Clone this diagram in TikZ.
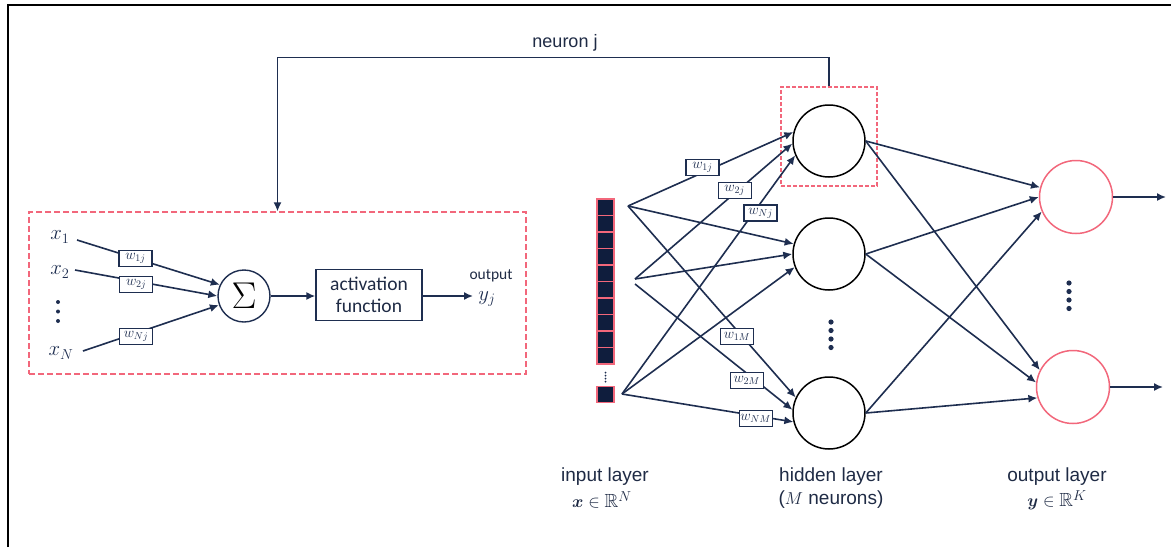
\documentclass[tikz,border=0pt]{standalone}
\usepackage{amsmath,amssymb,bm}
\usepackage{graphicx}
\usepackage[no-math]{fontspec}
\setmainfont{Liberation Sans}
\newfontfamily\calib{Carlito}
\usetikzlibrary{arrows.meta}
\definecolor{navy}{HTML}{1E2E50}
\definecolor{cellnavy}{HTML}{0F1D3D}
\definecolor{pinkred}{HTML}{F2677B}
\definecolor{txt}{HTML}{1F2B45}

\begin{document}
\begin{tikzpicture}[x=1pt,y=-1pt,
  conn/.style={draw=navy, line width=1.6pt},
  arr/.style={conn, -{Latex[length=9pt,width=8pt]}},
  wbox/.style={draw=navy, fill=white, line width=1.2pt, inner sep=0pt,
    minimum width=33pt, minimum height=16pt,
    font=\fontsize{14.4}{14.4}\selectfont, text=navy},
  hid/.style={circle, draw=black, line width=1.5pt, minimum size=72pt, inner sep=0pt},
  outn/.style={circle, draw=pinkred, line width=1.5pt, minimum size=73pt, inner sep=0pt},
  redbox/.style={draw=pinkred, dash pattern=on 6pt off 3pt, line width=1.3pt, inner sep=0pt},
  cell/.style={draw=pinkred, fill=cellnavy, line width=1.3pt, minimum width=17pt,
    minimum height=16.5pt, inner sep=0pt},
  lbl/.style={text=txt, font=\fontsize{19}{21}\selectfont, inner sep=0pt, align=center},
  mlbl/.style={text=navy, font=\fontsize{20.74}{20.74}\selectfont, inner sep=0pt},
]
\useasboundingbox (0,0) rectangle (1171,547);
\fill[white] (0,0) rectangle (1171,547);

% outer frame (top and left edges)
\draw[black, line width=2pt] (8,547) -- (8,5) -- (1171,5);

% ---------- single neuron (left panel) ----------
\node[redbox, minimum width=497pt, minimum height=162pt] (lbox) at (277.5,293) {};

\node[mlbl] (x1) at (60,237) {$x_1$};
\node[mlbl] (x2) at (60,272) {$x_2$};
\node[mlbl] (xN) at (61,353) {$x_N$};
\foreach \yy in {302,311.5,321} \fill[navy] (58,\yy) circle (2pt);

\coordinate (a1) at (77,240);
\coordinate (a2) at (75,270);
\coordinate (aN) at (83,351);

\node[circle, draw=navy, line width=1.4pt, minimum size=52pt, inner sep=0pt] (s) at (244,296)
  {\scalebox{1.8}{\fontsize{20}{20}\selectfont$\Sigma$}};
\node[draw=navy, line width=1.4pt, minimum width=106pt, minimum height=51pt, align=center,
  font=\calib\fontsize{19.5}{22}\selectfont, text=txt, inner sep=0pt] (act) at (369,295)
  {activation\\function};

\draw[arr] (a1) -- node[wbox,pos=0.41]{$w_{1j}$} (s.155);
\draw[arr] (a2) -- node[wbox,pos=0.43,yshift=-3pt]{$w_{2j}$} (s.180);
\draw[arr] (aN) -- node[wbox,pos=0.39,yshift=-3pt]{$w_{Nj}$} (s.200);
\draw[arr] (s.east) -- (s.east -| act.west);
\coordinate (yend) at (473,296);
\draw[arr] (act.east |- yend) -- (yend);
\node[text=txt, font=\calib\fontsize{15.5}{15.5}\selectfont, inner sep=0pt] (outtxt) at (491,276) {output};
\node[mlbl] (yj) at (487,299) {$y_j$};

% ---------- network (right panel) ----------
\foreach \i in {0,...,9} \node[cell] (c\i) at (605.5,207.25+16.5*\i) {};
\node[cell] (cN) at (605.5,394.5) {};
\foreach \k in {0,...,3} \fill[navy] (605.5,372.5+3*\k) circle (1pt);

\coordinate (f1) at (628,206);
\coordinate (f2) at (635,279);
\coordinate (f2b) at (635,284);
\coordinate (f3) at (622,394);

\node[redbox, dash pattern=on 4pt off 2pt, minimum width=96pt, minimum height=99pt] (hbox) at (829,136.5) {};
\node[hid] (h1) at (829,141) {};
\node[hid] (h2) at (829,254) {};
\node[hid] (h3) at (829,413) {};
\foreach \yy in {322,330.5,339,347.5} \fill[navy] (831,\yy) circle (2.6pt);

\node[outn] (o1) at (1076,197) {};
\node[outn] (o2) at (1073,387) {};
\foreach \yy in {283,291.5,300,308.5} \fill[navy] (1069,\yy) circle (2.6pt);

% input -> hidden
\draw[arr] (f1) -- node[wbox,pos=0.45,yshift=5.5pt]{$w_{1j}$} (h1.166);
\draw[arr] (f1) -- (h2.164);
\draw[arr] (f1) -- node[wbox,pos=0.65,yshift=-6pt]{$w_{1M}$} (h3.155);
\draw[arr] (f2) -- node[wbox,pos=0.633,yshift=3pt]{$w_{2j}$} (h1.184);
\draw[arr] (f2) -- (h2.180);
\draw[arr] (f2b) -- node[wbox,pos=0.71,yshift=-7pt]{$w_{2M}$} (h3.175);
\draw[arr] (f3) -- node[wbox,pos=0.80,yshift=-10pt]{$w_{Nj}$} (h1.203);
\draw[arr] (f3) -- (h2.201);
\draw[arr] (f3) -- node[wbox,pos=0.78,yshift=-3pt]{$w_{NM}$} (h3.194);

% hidden -> output
\draw[arr] (h1.east) -- (o1.165);
\draw[arr] (h1.east) -- (o2.153);
\draw[arr] (h2.east) -- (o1.180);
\draw[arr] (h2.east) -- (o2.173);
\draw[arr] (h3.east) -- (o1.203);
\draw[arr] (h3.east) -- (o2.197);

\coordinate (e1) at (1166,197);
\coordinate (e2) at (1163,387);
\draw[arr] (o1.east) -- (e1);
\draw[arr] (o2.east) -- (e2);

% link from neuron j to its detailed view
\draw[arr] (hbox.north) -- ++(0,-29) -| (lbox.north);
\node[lbl, font=\fontsize{18}{20}\selectfont] (nj) at (565,43) {neuron j};

% layer captions
\node[lbl] (inl) at (605,477) {input layer};
\node[lbl] (inm) at (602,500) {$\bm{x}\in\mathbb{R}^N$};
\node[lbl] (hidl) at (831,477) {hidden layer};
\node[lbl] (hidm) at (831,500) {($M$ neurons)};
\node[lbl] (outl) at (1057,477) {output layer};
\node[lbl] (outm) at (1057,500) {$\bm{y}\in\mathbb{R}^K$};
\end{tikzpicture}
\end{document}
